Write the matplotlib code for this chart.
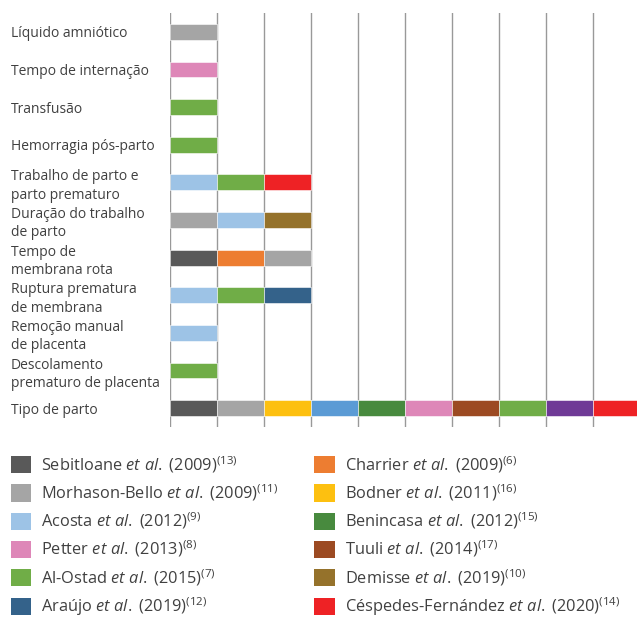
import matplotlib
matplotlib.use('Agg')
import matplotlib.pyplot as plt
from matplotlib.patches import Patch

plt.rcParams['font.family'] = ['Open Sans', 'DejaVu Sans']
plt.rcParams['mathtext.fontset'] = 'custom'
plt.rcParams['mathtext.rm'] = 'Open Sans'
plt.rcParams['mathtext.it'] = 'Open Sans:italic'
plt.rcParams['text.color'] = '#404040'

# studies shown in the legend (column 1 then column 2)
studies = ['Sebitloane', 'Morhason-Bello', 'Acosta', 'Petter', 'Al-Ostad', 'Araújo',
           'Charrier', 'Bodner', 'Benincasa', 'Tuuli', 'Demisse', 'Céspedes-Fernández']
years = ['2009', '2009', '2012', '2013', '2015', '2019',
         '2009', '2011', '2012', '2014', '2019', '2020']
refs = ['13', '11', '9', '8', '7', '12', '6', '16', '15', '17', '10', '14']
colors = {'Sebitloane': '#595959', 'Morhason-Bello': '#A5A5A5', 'Acosta': '#9DC3E6',
          'Petter': '#DE87B8', 'Al-Ostad': '#70AD47', 'Araújo': '#34628A',
          'Charrier': '#ED7D31', 'Bodner': '#FDC010', 'Benincasa': '#488A3E',
          'Tuuli': '#9C4A22', 'Demisse': '#95722B', 'Céspedes-Fernández': '#EE2225',
          # two segments without a legend entry
          'blue': '#5B9BD5', 'purple': '#6F3A96'}

categories = ['Líquido amniótico', 'Tempo de internação', 'Transfusão',
              'Hemorragia pós-parto', 'Trabalho de parto e\nparto prematuro',
              'Duração do trabalho\nde parto', 'Tempo de\nmembrana rota',
              'Ruptura prematura\nde membrana', 'Remoção manual\nde placenta',
              'Descolamento\nprematuro de placenta', 'Tipo de parto']
segments = [
    ['Morhason-Bello'],
    ['Petter'],
    ['Al-Ostad'],
    ['Al-Ostad'],
    ['Acosta', 'Al-Ostad', 'Céspedes-Fernández'],
    ['Morhason-Bello', 'Acosta', 'Demisse'],
    ['Sebitloane', 'Charrier', 'Morhason-Bello'],
    ['Acosta', 'Al-Ostad', 'Araújo'],
    ['Acosta'],
    ['Al-Ostad'],
    ['Sebitloane', 'Morhason-Bello', 'Bodner', 'blue', 'Benincasa', 'Petter',
     'Tuuli', 'Al-Ostad', 'purple', 'Céspedes-Fernández'],
]

fig = plt.figure(figsize=(6.37, 6.17), dpi=100)
ax = fig.add_axes([170 / 637, 1 - 427 / 617, 470 / 637, 414 / 617])

for i, row in enumerate(segments):
    for j, s in enumerate(row):
        ax.barh(i, 1, left=j, height=0.42, color=colors[s],
                edgecolor='white', linewidth=0.4, zorder=2)

ax.set_xlim(0, 10)
ax.set_ylim(len(categories) - 0.5, -0.5)
ax.set_xticks(range(0, 11))
ax.set_xticklabels([])
ax.grid(axis='x', color='#999999', linewidth=1, zorder=0)
ax.set_axisbelow(True)
ax.set_yticks(range(len(categories)))
ax.set_yticklabels(categories, fontsize=10, ha='left', linespacing=1.3)
ax.tick_params(axis='y', length=0, pad=159 * 72 / 100, labelcolor='#404040')
ax.tick_params(axis='x', length=0)
for sp in ax.spines.values():
    sp.set_visible(False)

handles = [Patch(facecolor=colors[s]) for s in studies]
labels = []
for s, y, r in zip(studies, years, refs):
    labels.append(s + r' $\mathit{et\ al.}$ (' + y + ')' + r'$^{(' + r + ')}$')

fig.legend(handles, labels, loc='upper left', bbox_to_anchor=(11 / 637, 1 - 454 / 617),
           ncol=2, frameon=False, fontsize=11.8, borderpad=0, borderaxespad=0,
           handlelength=1.25, handleheight=1.25, handletextpad=0.6,
           labelspacing=0.46, columnspacing=2.17, labelcolor='#404040')

fig.savefig('out.png', dpi=100)
